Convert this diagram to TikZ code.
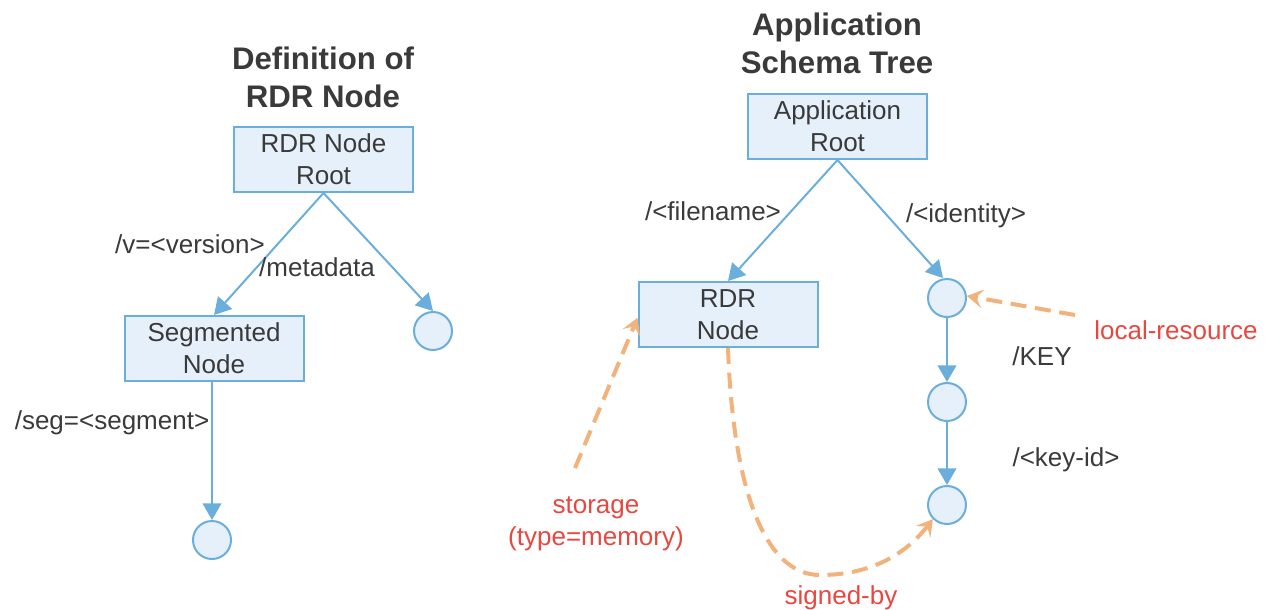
\documentclass[tikz,border=0pt]{standalone}
\usepackage{fontspec}
\setmainfont{Liberation Sans}
\usetikzlibrary{arrows.meta}
\definecolor{txt}{HTML}{3A3A3A}
\definecolor{boxfill}{HTML}{E6F0FA}
\definecolor{boxline}{HTML}{6AAFDB}
\definecolor{peach}{HTML}{F2B27C}
\definecolor{redlab}{HTML}{E8473F}
\tikzset{
  box/.style={draw=boxline, fill=boxfill, line width=1.5pt, minimum width=134.25pt,
    minimum height=48.75pt, align=center, text=txt, font=\fontsize{19.5}{24}\selectfont,
    inner sep=0pt},
  leaf/.style={draw=boxline, fill=boxfill, line width=1.5pt, circle, minimum size=28.5pt, inner sep=0pt},
  title/.style={align=center, text=txt, font=\bfseries\fontsize{23.4}{28.5}\selectfont},
  edgelab/.style={text=txt, font=\fontsize{19.5}{24}\selectfont, inner sep=0pt},
  redlabel/.style={text=redlab, align=center, font=\fontsize{19.5}{24}\selectfont, inner sep=0pt},
  tree/.style={draw=boxline, line width=1.5pt, -{Triangle[length=12.5pt,width=14pt]}},
  ref/.style={draw=peach, line width=3pt, dash pattern=on 12pt off 6.5pt,
    -{Stealth[length=12pt,width=14pt,inset=5pt]}},
}
\begin{document}
\begin{tikzpicture}[x=0.75pt,y=-0.75pt]
\useasboundingbox (0,0) rectangle (1270,610);

% left tree: definition of an RDR node
\node[title] (t1) at (323,77) {Definition of\\RDR Node};
\node[box] (root) at (323.5,159.5) {RDR Node\\Root};
\node[box] (seg) at (214,348.5) {Segmented\\Node};
\node[leaf] (meta) at (433,331) {};
\node[leaf] (segleaf) at (212,540) {};

\draw[tree] (root.south) -- (seg.north);
\draw[tree] (root.south) -- (meta.north);
\draw[tree] (seg.south -| segleaf) -- (segleaf.north);

\node[edgelab] (lv) at (190,244) {/v=<version>};
\node[edgelab] (lm) at (317,267) {/metadata};
\node[edgelab] (ls) at (112,423) {/seg=<segment>};

% right tree: application schema
\node[title] (t2) at (837,43) {Application\\Schema Tree};
\node[box] (app) at (837.5,126.5) {Application\\Root};
\node[box] (rdr) at (728,314.5) {RDR\\Node};
\node[leaf] (c1) at (947,298) {};
\node[leaf] (c2) at (947,402) {};
\node[leaf] (c3) at (947,505) {};

\draw[tree] (app.south) -- ([xshift=-3pt]c1.north);
\draw[tree] (app.south) -- (rdr.north);
\draw[tree] (c1) -- (c2);
\draw[tree] (c2) -- (c3);

\node[edgelab] (lf) at (713,211) {/<filename>};
\node[edgelab] (li) at (966,216) {/<identity>};
\node[edgelab] (lk) at (1042,356) {/KEY};
\node[edgelab] (lid) at (1066,460) {/<key-id>};

% references between nodes
\node[redlabel] (lr) at (1176,330) {local-resource};
\node[redlabel] (st) at (596,524) {storage\\(type=memory)};
\node[redlabel] (sb) at (841,598) {signed-by};

\coordinate (stfrom) at (575,468);
\coordinate (lrfrom) at (1075,315);
\coordinate (sbbot) at (820,575);

\draw[ref] (stfrom) -- ([yshift=-2.5pt]rdr.west);
\draw[ref] (lrfrom) -- (c1.6);
\draw[ref] (rdr.south) .. controls (733,490) and (765,575) .. (sbbot)
  .. controls (870,575) and (905,555) .. (c3.225);
\end{tikzpicture}
\end{document}
